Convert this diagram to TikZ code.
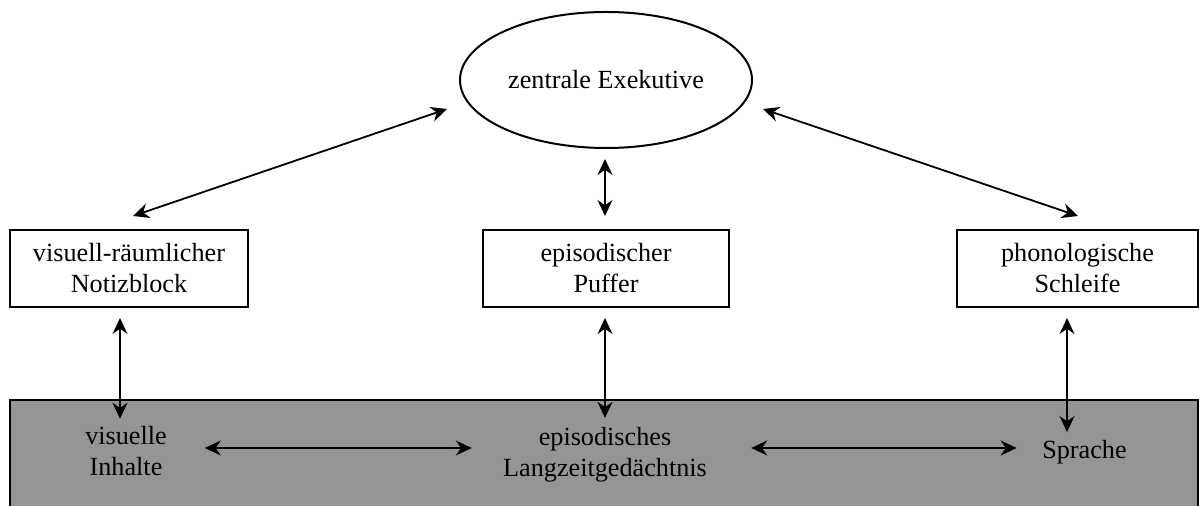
\documentclass[tikz,border=0pt]{standalone}
\usepackage{fontspec}
\setmainfont{Liberation Serif}
\usetikzlibrary{shapes.geometric,arrows.meta}
\definecolor{ltmgray}{RGB}{149,149,149}
\begin{document}
\begin{tikzpicture}[x=0.5pt,y=-0.5pt,
  tip/.style={Stealth[length=8pt,width=7.5pt,inset=2.6pt]},
  arr/.style={{Stealth[length=8pt,width=7.5pt,inset=2.6pt]}-{Stealth[length=8pt,width=7.5pt,inset=2.6pt]}, line width=0.9pt},
  txt/.style={font=\fontsize{13.1pt}{15.5pt}\selectfont, align=center},
  box/.style={txt, draw, line width=1pt, minimum height=38.5pt, inner sep=0pt},
]
\useasboundingbox (0,0) rectangle (1200,506);
\fill[white] (0,0) rectangle (1200,506);

% long-term memory band
\draw[line width=1pt, fill=ltmgray] (10,400) rectangle (1198,512);

% central executive and slave systems
\node[txt, draw, ellipse, line width=1pt, inner sep=0pt,
      minimum width=146pt, minimum height=68pt] (ce) at (606,80) {zentrale Exekutive};
\node[box, minimum width=119pt]   (vs) at (129,268.5)    {visuell-räumlicher\\Notizblock};
\node[box, minimum width=123pt]   (ep) at (606,268.5)    {episodischer\\Puffer};
\node[box, minimum width=120.5pt] (pl) at (1077.5,268.5) {phonologische\\Schleife};

% long-term memory contents
\node[txt] (vi) at (126,451.5)  {visuelle\\Inhalte};
\node[txt] (lz) at (605,454.4)  {episodisches\\Langzeitgedächtnis};
\node[txt] (sp) at (1084.5,452) {Sprache};

% executive <-> slave systems
\draw[arr] ([shift={(4,-13)}]vs.north) -- ([shift={(-159,29)}]ce.center);
\draw[arr] ([shift={(157,29)}]ce.center) -- ([shift={(0.5,-13)}]pl.north);
\draw[arr] ([shift={(-1,10)}]ce.south) -- ([shift={(-1,-13)}]ep.north);

% slave systems <-> long-term memory
\draw[arr] ([shift={(-9,10)}]vs.south) -- ([shift={(-6,-1)}]vi.north);
\draw[arr] ([shift={(-1,10)}]ep.south) -- ([shift={(0,-2)}]lz.north);
\draw[arr] ([shift={(-10.5,10)}]pl.south) -- ([shift={(-17.5,-1)}]sp.north);

% links inside long-term memory
\draw[arr] ([shift={(31,-3.5)}]vi.east) -- ([shift={(-24.3,-6.4)}]lz.west);
\draw[arr] ([shift={(37.3,-6.4)}]lz.east) -- ([shift={(-18.6,-4)}]sp.west);
\end{tikzpicture}
\end{document}
